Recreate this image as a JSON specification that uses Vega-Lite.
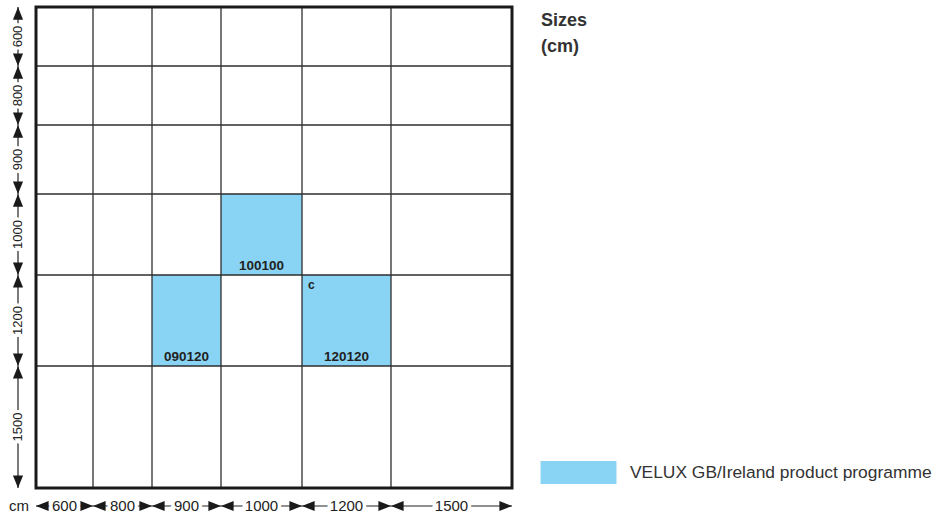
{
  "$schema": "https://vega.github.io/schema/vega-lite/v6.json",
  "width": 476,
  "height": 481,
  "autosize": {"type": "none"},
  "padding": {"left": 36, "top": 7, "right": 424, "bottom": 28},
  "background": "white",
  "config": {"view": {"stroke": null}, "font": "Liberation Sans", "axis": {"disable": true}},
  "datasets": {
    "columns": [
      {"size": "600", "start": 0, "end": 57},
      {"size": "800", "start": 57, "end": 116},
      {"size": "900", "start": 116, "end": 185},
      {"size": "1000", "start": 185, "end": 266},
      {"size": "1200", "start": 266, "end": 355},
      {"size": "1500", "start": 355, "end": 476}
    ],
    "rows": [
      {"size": "600", "start": 0, "end": 59},
      {"size": "800", "start": 59, "end": 118},
      {"size": "900", "start": 118, "end": 187},
      {"size": "1000", "start": 187, "end": 268},
      {"size": "1200", "start": 268, "end": 359},
      {"size": "1500", "start": 359, "end": 481}
    ],
    "products": [
      {"code": "100100", "x0": 185, "x1": 266, "y0": 187, "y1": 268, "note": "", "programme": "VELUX GB/Ireland product programme"},
      {"code": "090120", "x0": 116, "x1": 185, "y0": 268, "y1": 359, "note": "", "programme": "VELUX GB/Ireland product programme"},
      {"code": "120120", "x0": 266, "x1": 355, "y0": 268, "y1": 359, "note": "c", "programme": "VELUX GB/Ireland product programme"}
    ]
  },
  "layer": [
    {
      "data": {"name": "products"},
      "mark": {"type": "rect", "strokeWidth": 0},
      "encoding": {
        "x": {"field": "x0", "type": "quantitative", "scale": {"domain": [0, 476], "nice": false, "zero": false}},
        "x2": {"field": "x1"},
        "y": {"field": "y0", "type": "quantitative", "scale": {"domain": [0, 481], "nice": false, "zero": false, "reverse": true}},
        "y2": {"field": "y1"},
        "color": {
          "field": "programme", "type": "nominal",
          "scale": {"range": ["#89D4F4"]},
          "legend": {
            "orient": "none", "legendX": 531, "legendY": 454, "title": null,
            "symbolType": "M-3.3,-1H3.3V1H-3.3Z", "symbolSize": 529, "symbolStrokeWidth": 0, "symbolOpacity": 1,
            "labelFontSize": 17.4, "labelColor": "#333333", "labelFont": "Liberation Sans", "labelOffset": 40, "labelLimit": 400
          }
        }
      }
    },
    {
      "data": {"name": "columns"},
      "mark": {"type": "rule", "color": "#2e2e2e", "strokeWidth": 1.3},
      "encoding": {
        "x": {"field": "end", "type": "quantitative", "scale": {"domain": [0, 476], "nice": false, "zero": false}},
        "y": {"datum": 0, "type": "quantitative", "scale": {"domain": [0, 481], "nice": false, "zero": false, "reverse": true}},
        "y2": {"datum": 481}
      }
    },
    {
      "data": {"name": "rows"},
      "mark": {"type": "rule", "color": "#2e2e2e", "strokeWidth": 1.3},
      "encoding": {
        "y": {"field": "end", "type": "quantitative", "scale": {"domain": [0, 481], "nice": false, "zero": false, "reverse": true}},
        "x": {"datum": 0, "type": "quantitative", "scale": {"domain": [0, 476], "nice": false, "zero": false}},
        "x2": {"datum": 476}
      }
    },
    {
      "data": {"values": [{}]},
      "mark": {"type": "rect", "fill": null, "filled": false, "stroke": "#1a1a1a", "strokeWidth": 3},
      "encoding": {
        "x": {"datum": 0, "type": "quantitative", "scale": {"domain": [0, 476], "nice": false, "zero": false}},
        "x2": {"datum": 476},
        "y": {"datum": 0, "type": "quantitative", "scale": {"domain": [0, 481], "nice": false, "zero": false, "reverse": true}},
        "y2": {"datum": 481}
      }
    },
    {
      "data": {"name": "products"},
      "transform": [{"calculate": "(datum.x0 + datum.x1) / 2", "as": "mid"}],
      "mark": {"type": "text", "fontWeight": "bold", "fontSize": 13.5, "color": "#222222", "baseline": "alphabetic", "align": "center", "dy": -5},
      "encoding": {
        "x": {"field": "mid", "type": "quantitative", "scale": {"domain": [0, 476], "nice": false, "zero": false}},
        "y": {"field": "y1", "type": "quantitative", "scale": {"domain": [0, 481], "nice": false, "zero": false, "reverse": true}},
        "text": {"field": "code"}
      }
    },
    {
      "data": {"name": "products"},
      "transform": [{"filter": "datum.note == 'c'"}],
      "mark": {"type": "text", "fontWeight": "bold", "fontSize": 12, "color": "#222222", "baseline": "alphabetic", "align": "left", "dx": 6, "dy": 14},
      "encoding": {
        "x": {"field": "x0", "type": "quantitative", "scale": {"domain": [0, 476], "nice": false, "zero": false}},
        "y": {"field": "y0", "type": "quantitative", "scale": {"domain": [0, 481], "nice": false, "zero": false, "reverse": true}},
        "text": {"field": "note"}
      }
    },
    {
      "data": {"name": "columns"},
      "transform": [{"calculate": "(datum.start + datum.end) / 2", "as": "mid"}],
      "layer": [
        {
          "mark": {"type": "rule", "color": "#222222", "strokeWidth": 1.2},
          "encoding": {
            "x": {"field": "start", "type": "quantitative", "scale": {"domain": [0, 476], "nice": false, "zero": false}},
            "x2": {"field": "end"},
            "y": {"datum": 499, "type": "quantitative", "scale": {"domain": [0, 481], "nice": false, "zero": false, "reverse": true}}
          }
        },
        {
          "mark": {"type": "point", "shape": "M-1,0L1,-0.8L1,0.8Z", "filled": true, "color": "#1a1a1a", "opacity": 1, "size": 160, "xOffset": 6.3},
          "encoding": {
            "x": {"field": "start", "type": "quantitative", "scale": {"domain": [0, 476], "nice": false, "zero": false}},
            "y": {"datum": 499, "type": "quantitative", "scale": {"domain": [0, 481], "nice": false, "zero": false, "reverse": true}}
          }
        },
        {
          "mark": {"type": "point", "shape": "M1,0L-1,-0.8L-1,0.8Z", "filled": true, "color": "#1a1a1a", "opacity": 1, "size": 160, "xOffset": -6.3},
          "encoding": {
            "x": {"field": "end", "type": "quantitative", "scale": {"domain": [0, 476], "nice": false, "zero": false}},
            "y": {"datum": 499, "type": "quantitative", "scale": {"domain": [0, 481], "nice": false, "zero": false, "reverse": true}}
          }
        },
        {
          "mark": {"type": "text", "fontSize": 15, "fill": "white", "stroke": "white", "strokeWidth": 7, "baseline": "middle", "align": "center"},
          "encoding": {
            "x": {"field": "mid", "type": "quantitative", "scale": {"domain": [0, 476], "nice": false, "zero": false}},
            "y": {"datum": 499, "type": "quantitative", "scale": {"domain": [0, 481], "nice": false, "zero": false, "reverse": true}},
            "text": {"field": "size"}
          }
        },
        {
          "mark": {"type": "text", "fontSize": 15, "color": "#222222", "baseline": "middle", "align": "center"},
          "encoding": {
            "x": {"field": "mid", "type": "quantitative", "scale": {"domain": [0, 476], "nice": false, "zero": false}},
            "y": {"datum": 499, "type": "quantitative", "scale": {"domain": [0, 481], "nice": false, "zero": false, "reverse": true}},
            "text": {"field": "size"}
          }
        }
      ]
    },
    {
      "data": {"name": "rows"},
      "transform": [{"calculate": "(datum.start + datum.end) / 2", "as": "mid"}],
      "layer": [
        {
          "mark": {"type": "rule", "color": "#222222", "strokeWidth": 1.2},
          "encoding": {
            "y": {"field": "start", "type": "quantitative", "scale": {"domain": [0, 481], "nice": false, "zero": false, "reverse": true}},
            "y2": {"field": "end"},
            "x": {"datum": -18, "type": "quantitative", "scale": {"domain": [0, 476], "nice": false, "zero": false}}
          }
        },
        {
          "mark": {"type": "point", "shape": "M0,-1L-0.8,1L0.8,1Z", "filled": true, "color": "#1a1a1a", "opacity": 1, "size": 160, "yOffset": 6.3},
          "encoding": {
            "y": {"field": "start", "type": "quantitative", "scale": {"domain": [0, 481], "nice": false, "zero": false, "reverse": true}},
            "x": {"datum": -18, "type": "quantitative", "scale": {"domain": [0, 476], "nice": false, "zero": false}}
          }
        },
        {
          "mark": {"type": "point", "shape": "M0,1L-0.8,-1L0.8,-1Z", "filled": true, "color": "#1a1a1a", "opacity": 1, "size": 160, "yOffset": -6.3},
          "encoding": {
            "y": {"field": "end", "type": "quantitative", "scale": {"domain": [0, 481], "nice": false, "zero": false, "reverse": true}},
            "x": {"datum": -18, "type": "quantitative", "scale": {"domain": [0, 476], "nice": false, "zero": false}}
          }
        },
        {
          "mark": {"type": "text", "fontSize": 13, "fill": "white", "stroke": "white", "strokeWidth": 6, "baseline": "middle", "align": "center", "angle": 270},
          "encoding": {
            "y": {"field": "mid", "type": "quantitative", "scale": {"domain": [0, 481], "nice": false, "zero": false, "reverse": true}},
            "x": {"datum": -18, "type": "quantitative", "scale": {"domain": [0, 476], "nice": false, "zero": false}},
            "text": {"field": "size"}
          }
        },
        {
          "mark": {"type": "text", "fontSize": 13, "color": "#222222", "baseline": "middle", "align": "center", "angle": 270},
          "encoding": {
            "y": {"field": "mid", "type": "quantitative", "scale": {"domain": [0, 481], "nice": false, "zero": false, "reverse": true}},
            "x": {"datum": -18, "type": "quantitative", "scale": {"domain": [0, 476], "nice": false, "zero": false}},
            "text": {"field": "size"}
          }
        }
      ]
    },
    {
      "data": {"values": [{"label": "cm"}]},
      "mark": {"type": "text", "fontSize": 15, "color": "#222222", "baseline": "middle", "align": "left"},
      "encoding": {
        "x": {"datum": -27, "type": "quantitative", "scale": {"domain": [0, 476], "nice": false, "zero": false}},
        "y": {"datum": 499, "type": "quantitative", "scale": {"domain": [0, 481], "nice": false, "zero": false, "reverse": true}},
        "text": {"field": "label"}
      }
    },
    {
      "data": {"values": [{"label": ["Sizes", "(cm)"]}]},
      "mark": {"type": "text", "fontSize": 18, "fontWeight": "bold", "color": "#333333", "baseline": "alphabetic", "align": "left", "lineHeight": 26},
      "encoding": {
        "x": {"datum": 505, "type": "quantitative", "scale": {"domain": [0, 476], "nice": false, "zero": false}},
        "y": {"datum": 19, "type": "quantitative", "scale": {"domain": [0, 481], "nice": false, "zero": false, "reverse": true}},
        "text": {"field": "label"}
      }
    }
  ]
}
